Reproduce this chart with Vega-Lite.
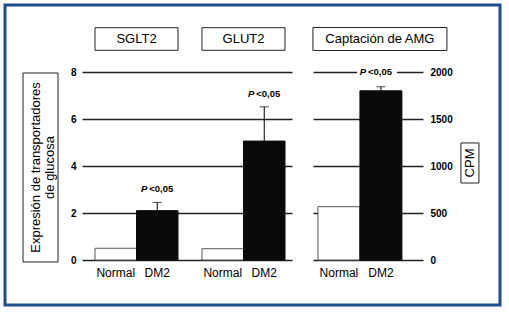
{
  "$schema": "https://vega.github.io/schema/vega-lite/v6.json",
  "width": 495,
  "height": 300,
  "autosize": "none",
  "padding": {"left": 5, "top": 5, "right": 9, "bottom": 7},
  "background": "white",
  "config": {
    "view": {"stroke": "#1F4E8C", "strokeWidth": 3},
    "font": "Liberation Sans",
    "text": {"font": "Liberation Sans", "color": "black"}
  },
  "datasets": {
    "left": [
      {"group": "SGLT2", "cond": "Normal", "value": 0.5},
      {"group": "SGLT2", "cond": "DM2", "value": 2.1, "upper": 2.45},
      {"group": "GLUT2", "cond": "Normal", "value": 0.48},
      {"group": "GLUT2", "cond": "DM2", "value": 5.06, "upper": 6.52}
    ],
    "right": [
      {"group": "Captación de AMG", "cond": "Normal", "value": 567},
      {"group": "Captación de AMG", "cond": "DM2", "value": 1800, "upper": 1843}
    ]
  },
  "resolve": {
    "scale": {"x": "independent", "y": "independent", "xOffset": "independent"},
    "axis": {"x": "independent", "y": "independent"}
  },
  "layer": [
    {
      "data": {"name": "left"},
      "encoding": {
        "x": {
          "field": "group", "type": "nominal", "sort": ["SGLT2", "GLUT2"],
          "scale": {"range": [77, 287], "paddingInner": 0.224, "paddingOuter": 0.0934, "align": 0.65},
          "axis": null
        }
      },
      "layer": [
        {
          "mark": {"type": "bar", "strokeWidth": 1},
          "encoding": {
            "xOffset": {"field": "cond", "type": "nominal", "sort": ["Normal", "DM2"], "scale": {"paddingInner": 0, "paddingOuter": 0}},
            "y": {
              "field": "value", "type": "quantitative",
              "scale": {"domain": [0, 8], "range": [255, 67], "nice": false},
              "axis": {
                "orient": "left", "offset": -77, "values": [0, 2, 4, 6, 8], "grid": true,
                "gridColor": "#222", "gridWidth": 1.3, "domain": false, "ticks": false,
                "labelPadding": 6, "labelFont": "Liberation Sans", "labelFontWeight": "bold",
                "labelFontSize": 10, "labelColor": "black", "title": null
              }
            },
            "fill": {"field": "cond", "type": "nominal", "scale": {"domain": ["Normal", "DM2"], "range": ["white", "#0a0a0a"]}, "legend": null},
            "stroke": {"field": "cond", "type": "nominal", "scale": {"domain": ["Normal", "DM2"], "range": ["#555555", "#0a0a0a"]}, "legend": null}
          }
        },
        {
          "transform": [{"filter": "isValid(datum.upper)"}],
          "mark": {"type": "rule", "color": "black", "strokeWidth": 1},
          "encoding": {
            "xOffset": {"field": "cond", "type": "nominal", "sort": ["Normal", "DM2"]},
            "y": {"field": "value", "type": "quantitative"},
            "y2": {"field": "upper"}
          }
        },
        {
          "transform": [{"filter": "isValid(datum.upper)"}],
          "mark": {"type": "tick", "color": "black", "size": 9, "thickness": 1, "orient": "horizontal"},
          "encoding": {
            "xOffset": {"field": "cond", "type": "nominal", "sort": ["Normal", "DM2"]},
            "y": {"field": "upper", "type": "quantitative"}
          }
        },
        {
          "transform": [{"filter": "isValid(datum.upper)"}],
          "mark": {"type": "text", "text": "P", "fontStyle": "italic", "fontWeight": "bold", "fontSize": 9.5, "dx": -13, "dy": -13, "baseline": "middle", "align": "center"},
          "encoding": {
            "xOffset": {"field": "cond", "type": "nominal", "sort": ["Normal", "DM2"]},
            "y": {"field": "upper", "type": "quantitative"}
          }
        },
        {
          "transform": [{"filter": "isValid(datum.upper)"}],
          "mark": {"type": "text", "text": "<0,05", "fontWeight": "bold", "fontSize": 9.5, "dx": -8, "dy": -13, "baseline": "middle", "align": "left"},
          "encoding": {
            "xOffset": {"field": "cond", "type": "nominal", "sort": ["Normal", "DM2"]},
            "y": {"field": "upper", "type": "quantitative"}
          }
        },
        {
          "mark": {"type": "text", "fontSize": 12, "dy": 13, "baseline": "middle", "align": "center"},
          "encoding": {
            "xOffset": {"field": "cond", "type": "nominal", "sort": ["Normal", "DM2"]},
            "y": {"datum": 0, "type": "quantitative"},
            "text": {"field": "cond"}
          }
        },
        {
          "transform": [{"filter": "datum.cond == 'DM2'"}],
          "mark": {"type": "bar", "fill": "white", "stroke": "#222", "strokeWidth": 1},
          "encoding": {
            "y": {"datum": 8.923, "type": "quantitative"},
            "y2": {"datum": 9.885}
          }
        },
        {
          "transform": [{"filter": "datum.cond == 'DM2'"}],
          "mark": {"type": "text", "fontSize": 13, "baseline": "middle", "align": "center"},
          "encoding": {
            "y": {"datum": 9.4, "type": "quantitative"},
            "text": {"field": "group"}
          }
        },
        {
          "transform": [{"filter": "datum.group == 'SGLT2' && datum.cond == 'DM2'"}],
          "mark": {"type": "bar", "fill": "white", "stroke": "#222", "strokeWidth": 1, "width": 35, "xOffset": -96},
          "encoding": {
            "y": {"datum": -0.085, "type": "quantitative"},
            "y2": {"datum": 7.957}
          }
        },
        {
          "transform": [{"filter": "datum.group == 'SGLT2' && datum.cond == 'DM2'"}],
          "mark": {"type": "text", "text": ["Expresión de transportadores", "de glucosa"], "fontSize": 13, "lineHeight": 14, "angle": 270, "baseline": "middle", "align": "center", "xOffset": -101},
          "encoding": {
            "y": {"datum": 3.936, "type": "quantitative"}
          }
        }
      ]
    },
    {
      "data": {"name": "right"},
      "encoding": {
        "x": {
          "field": "group", "type": "nominal",
          "scale": {"range": [308, 418], "paddingInner": 0, "paddingOuter": 0.155, "align": 0.19},
          "axis": null
        }
      },
      "layer": [
        {
          "mark": {"type": "bar", "strokeWidth": 1},
          "encoding": {
            "xOffset": {"field": "cond", "type": "nominal", "sort": ["Normal", "DM2"], "scale": {"paddingInner": 0, "paddingOuter": 0}},
            "y": {
              "field": "value", "type": "quantitative",
              "scale": {"domain": [0, 2000], "range": [255, 67], "nice": false},
              "axis": {"orient": "left", "offset": -418, "values": [0, 500, 1000, 1500, 2000], "format": "d", "grid": true, "gridColor": "#222", "gridWidth": 1.3, "domain": false, "ticks": false, "labelAlign": "left", "labelPadding": -7, "labelFont": "Liberation Sans", "labelFontWeight": "bold", "labelFontSize": 10, "labelColor": "black", "title": null}
            },
            "fill": {"field": "cond", "type": "nominal", "scale": {"domain": ["Normal", "DM2"], "range": ["white", "#0a0a0a"]}, "legend": null},
            "stroke": {"field": "cond", "type": "nominal", "scale": {"domain": ["Normal", "DM2"], "range": ["#555555", "#0a0a0a"]}, "legend": null}
          }
        },
        {
          "transform": [{"filter": "isValid(datum.upper)"}],
          "mark": {"type": "rule", "color": "black", "strokeWidth": 1},
          "encoding": {
            "xOffset": {"field": "cond", "type": "nominal", "sort": ["Normal", "DM2"]},
            "y": {"field": "value", "type": "quantitative", "axis": {"orient": "left", "offset": -418, "values": [0, 500, 1000, 1500, 2000], "format": "d", "grid": true, "gridColor": "#222", "gridWidth": 1.3, "domain": false, "ticks": false, "labelAlign": "left", "labelPadding": -7, "labelFont": "Liberation Sans", "labelFontWeight": "bold", "labelFontSize": 10, "labelColor": "black", "title": null}},
            "y2": {"field": "upper"}
          }
        },
        {
          "transform": [{"filter": "isValid(datum.upper)"}],
          "mark": {"type": "tick", "color": "black", "size": 9, "thickness": 1, "orient": "horizontal"},
          "encoding": {
            "xOffset": {"field": "cond", "type": "nominal", "sort": ["Normal", "DM2"]},
            "y": {"field": "upper", "type": "quantitative", "axis": {"orient": "left", "offset": -418, "values": [0, 500, 1000, 1500, 2000], "format": "d", "grid": true, "gridColor": "#222", "gridWidth": 1.3, "domain": false, "ticks": false, "labelAlign": "left", "labelPadding": -7, "labelFont": "Liberation Sans", "labelFontWeight": "bold", "labelFontSize": 10, "labelColor": "black", "title": null}}
          }
        },
        {
          "transform": [{"filter": "datum.cond == 'DM2'"}],
          "mark": {"type": "bar", "fill": "white", "width": 40, "xOffset": 17},
          "encoding": {
            "y": {"datum": 1945, "type": "quantitative", "axis": {"orient": "left", "offset": -418, "values": [0, 500, 1000, 1500, 2000], "format": "d", "grid": true, "gridColor": "#222", "gridWidth": 1.3, "domain": false, "ticks": false, "labelAlign": "left", "labelPadding": -7, "labelFont": "Liberation Sans", "labelFontWeight": "bold", "labelFontSize": 10, "labelColor": "black", "title": null}},
            "y2": {"datum": 2055}
          }
        },
        {
          "transform": [{"filter": "isValid(datum.upper)"}],
          "mark": {"type": "text", "text": "P", "fontStyle": "italic", "fontWeight": "bold", "fontSize": 9.5, "dx": -18, "dy": -15, "baseline": "middle", "align": "center"},
          "encoding": {
            "xOffset": {"field": "cond", "type": "nominal", "sort": ["Normal", "DM2"]},
            "y": {"field": "upper", "type": "quantitative", "axis": {"orient": "left", "offset": -418, "values": [0, 500, 1000, 1500, 2000], "format": "d", "grid": true, "gridColor": "#222", "gridWidth": 1.3, "domain": false, "ticks": false, "labelAlign": "left", "labelPadding": -7, "labelFont": "Liberation Sans", "labelFontWeight": "bold", "labelFontSize": 10, "labelColor": "black", "title": null}}
          }
        },
        {
          "transform": [{"filter": "isValid(datum.upper)"}],
          "mark": {"type": "text", "text": "<0,05", "fontWeight": "bold", "fontSize": 9.5, "dx": -13, "dy": -15, "baseline": "middle", "align": "left"},
          "encoding": {
            "xOffset": {"field": "cond", "type": "nominal", "sort": ["Normal", "DM2"]},
            "y": {"field": "upper", "type": "quantitative", "axis": {"orient": "left", "offset": -418, "values": [0, 500, 1000, 1500, 2000], "format": "d", "grid": true, "gridColor": "#222", "gridWidth": 1.3, "domain": false, "ticks": false, "labelAlign": "left", "labelPadding": -7, "labelFont": "Liberation Sans", "labelFontWeight": "bold", "labelFontSize": 10, "labelColor": "black", "title": null}}
          }
        },
        {
          "mark": {"type": "text", "fontSize": 12, "dy": 13, "baseline": "middle", "align": "center"},
          "encoding": {
            "xOffset": {"field": "cond", "type": "nominal", "sort": ["Normal", "DM2"]},
            "y": {"datum": 0, "type": "quantitative", "axis": {"orient": "left", "offset": -418, "values": [0, 500, 1000, 1500, 2000], "format": "d", "grid": true, "gridColor": "#222", "gridWidth": 1.3, "domain": false, "ticks": false, "labelAlign": "left", "labelPadding": -7, "labelFont": "Liberation Sans", "labelFontWeight": "bold", "labelFontSize": 10, "labelColor": "black", "title": null}},
            "text": {"field": "cond"}
          }
        },
        {
          "transform": [{"filter": "datum.cond == 'DM2'"}],
          "mark": {"type": "bar", "fill": "white", "stroke": "#222", "strokeWidth": 1, "width": 134, "xOffset": 20},
          "encoding": {
            "y": {"datum": 2229, "type": "quantitative", "axis": {"orient": "left", "offset": -418, "values": [0, 500, 1000, 1500, 2000], "format": "d", "grid": true, "gridColor": "#222", "gridWidth": 1.3, "domain": false, "ticks": false, "labelAlign": "left", "labelPadding": -7, "labelFont": "Liberation Sans", "labelFontWeight": "bold", "labelFontSize": 10, "labelColor": "black", "title": null}},
            "y2": {"datum": 2473}
          }
        },
        {
          "transform": [{"filter": "datum.cond == 'DM2'"}],
          "mark": {"type": "text", "fontSize": 13, "baseline": "middle", "align": "center", "xOffset": 20},
          "encoding": {
            "y": {"datum": 2351, "type": "quantitative", "axis": {"orient": "left", "offset": -418, "values": [0, 500, 1000, 1500, 2000], "format": "d", "grid": true, "gridColor": "#222", "gridWidth": 1.3, "domain": false, "ticks": false, "labelAlign": "left", "labelPadding": -7, "labelFont": "Liberation Sans", "labelFontWeight": "bold", "labelFontSize": 10, "labelColor": "black", "title": null}},
            "text": {"field": "group"}
          }
        },
        {
          "transform": [{"filter": "datum.cond == 'DM2'"}],
          "mark": {"type": "bar", "fill": "white", "stroke": "#222", "strokeWidth": 1, "width": 18, "xOffset": 110},
          "encoding": {
            "y": {"datum": 819, "type": "quantitative", "axis": {"orient": "left", "offset": -418, "values": [0, 500, 1000, 1500, 2000], "format": "d", "grid": true, "gridColor": "#222", "gridWidth": 1.3, "domain": false, "ticks": false, "labelAlign": "left", "labelPadding": -7, "labelFont": "Liberation Sans", "labelFontWeight": "bold", "labelFontSize": 10, "labelColor": "black", "title": null}},
            "y2": {"datum": 1245}
          }
        },
        {
          "transform": [{"filter": "datum.cond == 'DM2'"}],
          "mark": {"type": "text", "text": "CPM", "fontSize": 13, "angle": 270, "baseline": "middle", "align": "center", "xOffset": 110},
          "encoding": {
            "y": {"datum": 1032, "type": "quantitative", "axis": {"orient": "left", "offset": -418, "values": [0, 500, 1000, 1500, 2000], "format": "d", "grid": true, "gridColor": "#222", "gridWidth": 1.3, "domain": false, "ticks": false, "labelAlign": "left", "labelPadding": -7, "labelFont": "Liberation Sans", "labelFontWeight": "bold", "labelFontSize": 10, "labelColor": "black", "title": null}}
          }
        }
      ]
    }
  ]
}
